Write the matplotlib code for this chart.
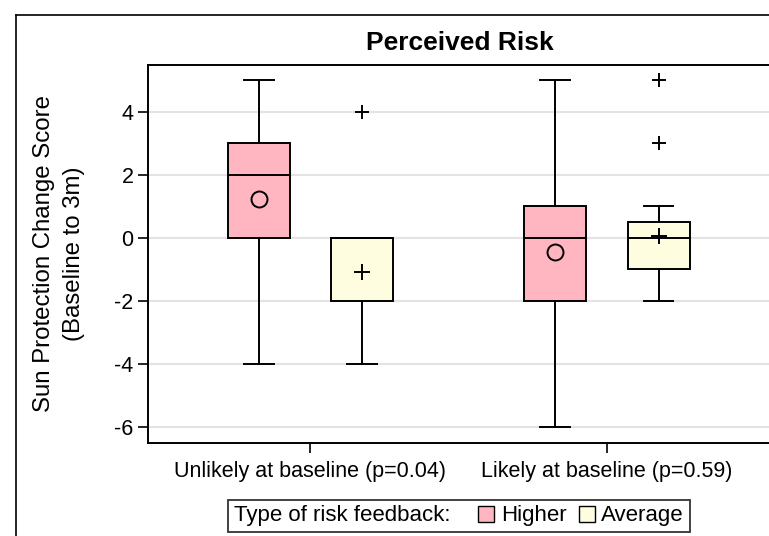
import matplotlib
matplotlib.use("Agg")
import matplotlib.pyplot as plt
from matplotlib.lines import Line2D
from matplotlib.patches import Patch
from matplotlib.offsetbox import HPacker

plt.rcParams['font.family'] = ['Liberation Sans', 'DejaVu Sans']

groups = ["Unlikely at baseline (p=0.04)", "Likely at baseline (p=0.59)"]
feedback = ["Higher", "Average"]
colors = ["#FFB6C1", "#FFFDE0"]
mean_markers = ["o", "+"]

# per feedback type: [Unlikely group, Likely group]
q1 = {"Higher": [0, -2], "Average": [-2, -1]}
med = {"Higher": [2, 0], "Average": [0, 0]}
q3 = {"Higher": [3, 1], "Average": [0, 0.5]}
whislo = {"Higher": [-4, -6], "Average": [-4, -2]}
whishi = {"Higher": [5, 5], "Average": [0, 1]}
means = {"Higher": [1.22, -0.45], "Average": [-1.1, 0.05]}
outliers = {"Higher": [[], []], "Average": [[4], [3, 5]]}

yticks = [-6, -4, -2, 0, 2, 4]

fig = plt.figure(figsize=(7.69, 5.36), dpi=100)
ax = fig.add_axes([148 / 769, 1 - 443 / 536, 622 / 769, 378 / 536])

offset = 0.1745
width = 0.209
for i, fb in enumerate(feedback):
    stats = []
    for g in range(len(groups)):
        stats.append(dict(q1=q1[fb][g], med=med[fb][g], q3=q3[fb][g],
                          whislo=whislo[fb][g], whishi=whishi[fb][g],
                          mean=means[fb][g], fliers=outliers[fb][g]))
    pos = [g + 1 + (2 * i - 1) * offset for g in range(len(groups))]
    ax.bxp(stats, positions=pos, widths=width, patch_artist=True,
           showmeans=True, manage_ticks=False, capwidths=0.1,
           boxprops=dict(facecolor=colors[i], edgecolor='black', linewidth=1.4),
           medianprops=dict(color='black', linewidth=1.4),
           whiskerprops=dict(color='black', linewidth=1.4),
           capprops=dict(color='black', linewidth=1.4),
           meanprops=dict(marker=mean_markers[i], markerfacecolor='none',
                          markeredgecolor='black', markersize=11.5, markeredgewidth=1.4),
           flierprops=dict(marker='+', markeredgecolor='black',
                           markersize=10, markeredgewidth=1.4),
           zorder=3)

ax.set_xlim(0.452, 2.55)
ax.set_ylim(-6.52, 5.48)
ax.set_yticks(yticks)
ax.set_yticklabels([str(t) for t in yticks])
ax.set_xticks([1, 2])
ax.set_xticklabels(groups)
ax.tick_params(axis='both', labelsize=15.5, length=7, width=1.2, direction='out')
ax.tick_params(axis='x', pad=6)
ax.yaxis.grid(True, color='#E3E3E3', linewidth=1.5, zorder=0)
ax.set_axisbelow(True)
for s in ['left', 'top', 'bottom']:
    ax.spines[s].set_linewidth(1.4)
ax.spines['right'].set_visible(False)

ax.set_ylabel("Sun Protection Change Score\n(Baseline to 3m)", fontsize=17.3,
              va='center', linespacing=1.45)
ax.yaxis.set_label_coords(-0.143, 0.5)
fig.text(460 / 769, 1 - 43 / 536, "Perceived Risk", ha='center', va='center',
         fontsize=19, fontweight='bold')

# outer frame (cropped at right and bottom)
fig.add_artist(Line2D([16 / 769, 16 / 769], [0, 1 - 15 / 536], transform=fig.transFigure,
                      color='black', linewidth=1.2))
fig.add_artist(Line2D([16 / 769, 1], [1 - 15 / 536, 1 - 15 / 536], transform=fig.transFigure,
                      color='black', linewidth=1.2))

handles = [Patch(facecolor=c, edgecolor='black', linewidth=1.0) for c in colors]
leg = fig.legend(handles, feedback, ncol=2, loc='center', bbox_to_anchor=(459 / 769, 1 - 516 / 536),
                 fontsize=16, title="Type of risk feedback:", title_fontsize=16,
                 frameon=True, fancybox=False, edgecolor='black',
                 handlelength=0.72, handleheight=0.72, handletextpad=0.3, columnspacing=0.55,
                 borderpad=0.25, borderaxespad=0)
leg.get_frame().set_linewidth(1.3)
# put the title to the left of the entries
leg._legend_box = HPacker(pad=leg.borderpad * leg._fontsize, sep=20, align='center',
                          children=[leg._legend_title_box, leg._legend_handle_box])
leg._legend_box.set_figure(fig)
leg._legend_box.set_offset(leg._findoffset)

fig.savefig("out.png", dpi=100)
